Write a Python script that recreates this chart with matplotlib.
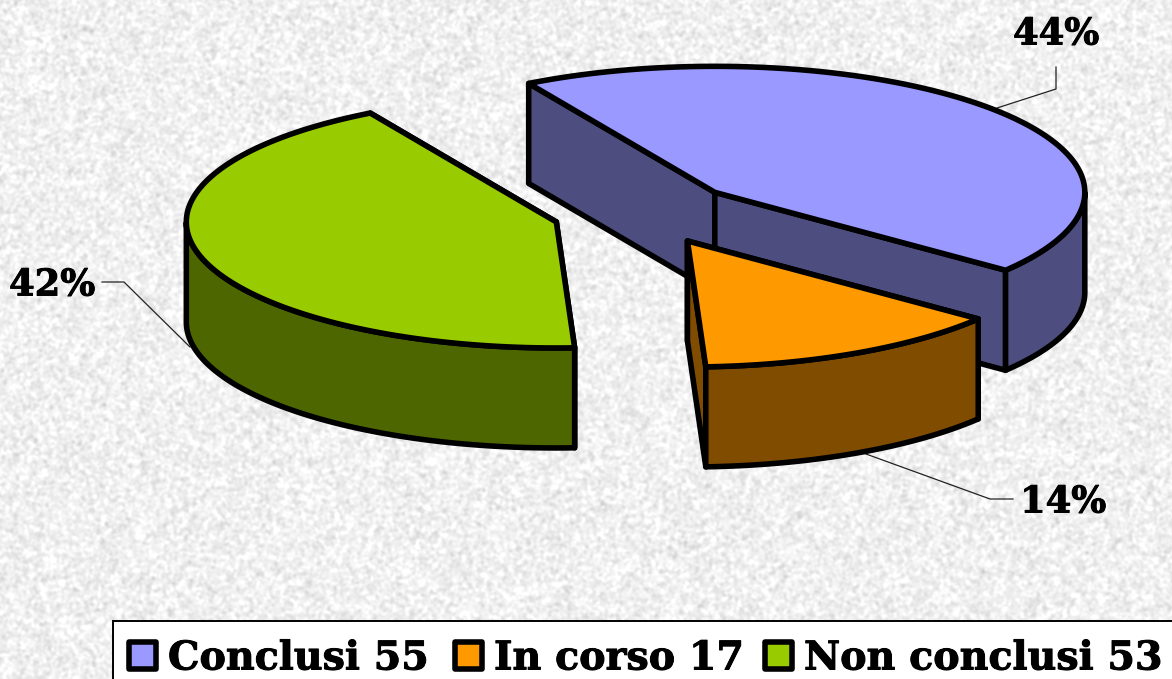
#3D style exploded pie of the project status, drawn by hand since matplotlib has no 3D pie
import numpy as np
import matplotlib
matplotlib.use("Agg")
import matplotlib.pyplot as plt
import matplotlib.patheffects as pe
from matplotlib.patches import Polygon, Rectangle

labels = ["Conclusi", "In corso", "Non conclusi"]
values = [55, 17, 53]
percents = ["44%", "14%", "42%"]
topColors = ["#9999ff", "#ff9900", "#99cc00"]
sideColors = ["#4d4d80", "#804d00", "#4d6600"]

W, H = 1172, 679
startAngle = 120.2
cx, cy = 645.0, 213.0
rx, ry = 370.0, 126.0
depth = 100.0
explode = 0.25
lineW = 4.0

fig = plt.figure(figsize=(W/100, H/100), dpi=100)
ax = fig.add_axes([0, 0, 1, 1])
ax.set_xlim(0, W)
ax.set_ylim(H, 0)
ax.axis("off")

#paper texture behind the chart
rng = np.random.default_rng(7)
noise = np.fft.fft2(rng.normal(size=(H, W)))
fy = np.fft.fftfreq(H)[:, None]
fx = np.fft.fftfreq(W)[None, :]
tex = np.real(np.fft.ifft2(noise*np.exp(-(fx**2 + fy**2)*2*np.pi**2*1.4**2)))
tex = tex/tex.std()
ax.imshow(np.clip(240 + 8*tex, 205, 255), cmap="gray", vmin=0, vmax=255, extent=(0, W, H, 0), aspect="auto", zorder=0)

def ell(x0, y0, t):
    return np.column_stack((x0 + rx*np.cos(t), y0 - ry*np.sin(t)))

def drawSlice(t1, t2, top, side):
    #t1 > t2, goes clockwise. Slice moved out along its middle angle
    mid = (t1 + t2)/2
    x0 = cx + explode*rx*np.cos(mid)
    y0 = cy - explode*ry*np.sin(mid)
    apex = np.array([x0, y0])
    down = np.array([0, depth])
    arc = ell(x0, y0, np.linspace(t1, t2, 200))
    kw = dict(edgecolor="black", linewidth=lineW, joinstyle="round")
    #walls first, the rim and the top cover what is hidden
    for p in (arc[0], arc[-1]):
        ax.add_patch(Polygon([apex, p, p + down, apex + down], facecolor=side, zorder=2, **kw))
    #only the part of the arc on the front half of the ellipse has a rim
    tt = np.linspace(t1, t2, 400)
    tt = tt[np.sin(tt) <= 0]
    rim = ell(x0, y0, tt)
    ax.add_patch(Polygon(np.vstack((rim, rim[::-1] + down)), facecolor=side, zorder=2, **kw))
    ax.add_patch(Polygon(np.vstack((apex, arc)), facecolor=top, zorder=2, **kw))

fractions = np.array(values)/sum(values)
edges = np.radians(startAngle) - np.concatenate(([0], np.cumsum(fractions)))*2*np.pi
#blue at the back, then green, the orange slice overlaps the blue one
for i in [0, 2, 1]:
    drawSlice(edges[i], edges[i + 1], topColors[i], sideColors[i])

heavy = [pe.withStroke(linewidth=0.7, foreground="black")]

#percent labels and their leader lines
labelPos = [(1056, 34.5), (1063, 502.5), (52, 285.5)]
leaders = [[(997, 108), (1056, 89), (1056, 67)],
           [(866, 454), (990, 499), (1013, 499)],
           [(102, 282), (124, 282), (190, 347)]]
for txt, pos, ld in zip(percents, labelPos, leaders):
    ax.text(pos[0], pos[1], txt, family="DejaVu Serif", weight="bold", fontsize=26.5, ha="center", va="center", zorder=5, path_effects=heavy)
    ax.plot(*zip(*ld), color="#222222", linewidth=0.9, zorder=1)

#legend box
ax.add_patch(Rectangle((113, 621), W - 113 + 5, 70, facecolor="white", edgecolor="black", linewidth=1.4, zorder=3))
swatchX = [127, 453, 763]
textX = [168, 494, 804]
for i in range(3):
    ax.add_patch(Rectangle((swatchX[i] + 1.5, 641.5), 27, 27, facecolor=topColors[i], edgecolor="black", linewidth=lineW, joinstyle="round", zorder=4))
    ax.text(textX[i], 658.5, labels[i] + " " + str(values[i]), family="DejaVu Serif", weight="bold", fontsize=28.5, ha="left", va="center", zorder=5, path_effects=heavy)

fig.savefig("out.png", dpi=100)
